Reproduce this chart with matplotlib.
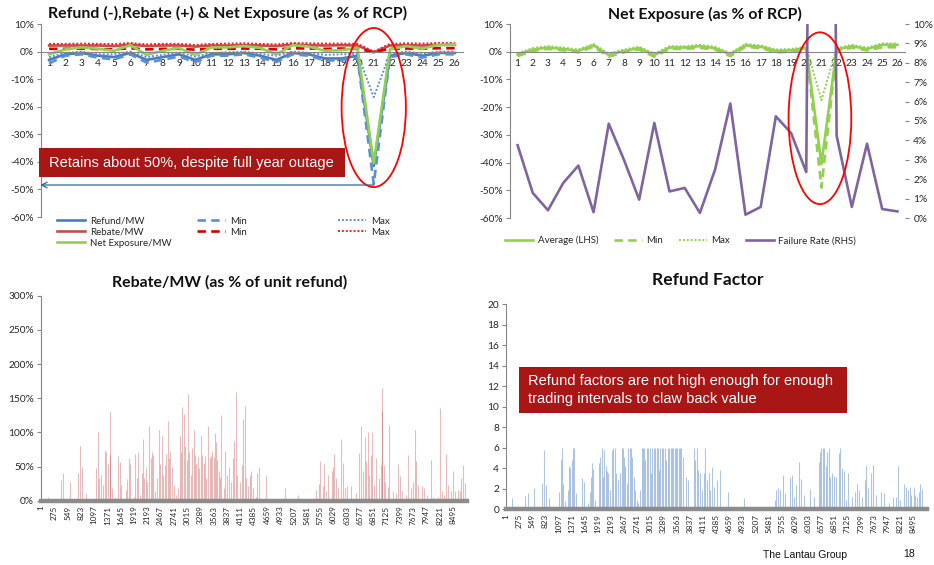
import numpy as np
import matplotlib
matplotlib.use("Agg")
import matplotlib.pyplot as plt
from matplotlib.patches import Ellipse, Rectangle
from matplotlib.lines import Line2D
from matplotlib.ticker import FuncFormatter

# ---------------- data ----------------
years = list(range(1, 27))

refund_avg = [-3.0, -1.0, -0.5, -1.5, -2.0, -0.5, -3.0, -2.0, -1.0, -3.0, -1.0, -1.0, -0.5,
              -1.5, -3.0, -0.5, -1.0, -2.5, -2.5, -1.5, -41.5, -1.5, -0.5, -1.5, -0.5, -0.5]
refund_min = [-4.3, -1.5, -1.0, -2.2, -2.8, -1.0, -4.0, -3.0, -1.8, -3.8, -1.5, -1.5, -1.0,
              -2.2, -3.8, -1.0, -1.5, -3.2, -3.2, -2.2, -48.0, -2.0, -1.0, -2.2, -1.0, -1.0]
refund_max = [-2.0, -0.5, 0.0, -1.0, -1.0, 0.0, -2.0, -1.2, -0.3, -1.8, -0.5, -0.3, 0.0,
              -0.8, -1.5, 0.0, -0.5, -1.2, -1.0, -0.8, -16.5, -0.8, 0.0, -0.8, 0.0, 0.0]
rebate_avg = [2.2, 2.2, 2.2, 2.2, 2.0, 2.5, 2.0, 2.2, 2.2, 1.8, 2.2, 2.2, 2.3,
              2.2, 2.0, 2.5, 2.3, 2.2, 2.3, 2.2, -0.3, 2.2, 2.3, 2.2, 2.4, 2.4]
rebate_min = [1.0, 1.0, 1.1, 0.9, 0.8, 1.2, 0.8, 1.0, 1.0, 0.7, 1.0, 1.0, 1.1,
              1.0, 0.8, 1.2, 1.1, 1.0, 1.1, 1.0, -0.2, 1.0, 1.1, 1.0, 1.2, 1.2]
rebate_max = [2.8, 2.8, 2.9, 2.8, 2.7, 3.1, 2.6, 2.8, 2.8, 2.4, 2.8, 2.9, 3.0,
              2.8, 2.6, 3.1, 3.0, 2.9, 2.9, 2.8, 0.0, 2.8, 3.0, 2.9, 3.1, 3.1]
net_avg = [-1.0, 0.8, 1.5, 1.0, 0.3, 2.3, -1.2, 0.3, 1.3, -1.2, 1.5, 1.5, 2.0,
           1.3, -1.0, 2.3, 1.8, 0.3, 0.5, 1.3, -40.5, 0.8, 2.0, 1.0, 2.5, 2.5]
net_min = [-1.6, 0.3, 1.0, 0.5, -0.2, 1.8, -1.8, -0.2, 0.8, -1.8, 1.0, 1.0, 1.4,
           0.8, -1.6, 1.8, 1.3, -0.2, 0.0, 0.8, -49.0, 0.3, 1.4, 0.5, 1.6, 1.6]
net_max = [-0.6, 1.3, 2.0, 1.5, 0.8, 2.8, -0.7, 0.8, 1.8, -0.7, 2.0, 2.0, 2.5,
           1.8, -0.5, 2.8, 2.3, 0.8, 1.0, 1.8, -17.5, 1.3, 2.5, 1.5, 3.0, 3.0]
failure_rate = [3.75, 1.29, 0.40, 1.80, 2.70, 0.30, 4.86, 3.00, 0.95, 4.90, 1.37, 1.55, 0.26,
                2.50, 5.90, 0.17, 0.57, 5.24, 4.38, 2.37, 100.0, 4.24, 0.57, 3.83, 0.46, 0.34]

n_intervals = 8784

# rebate per MW as % of unit refund: (trading interval, value %)
rebate_interval = [138, 413, 447, 598, 770, 798, 839, 929, 1101, 1136, 1170, 1205, 1233, 1274,
                   1315, 1343, 1384, 1418, 1432, 1467, 1536, 1591, 1632, 1653, 1756, 1777, 1811,
                   1839, 1915, 1949, 1977, 2004, 2046, 2073, 2101, 2128, 2156, 2190, 2225, 2259,
                   2287, 2314, 2349, 2390, 2431, 2459, 2487, 2514, 2549, 2583, 2618, 2638, 2666,
                   2694, 2742, 2776, 2831, 2865, 2886, 2907, 2941, 2976, 3003, 3031, 3058, 3093,
                   3120, 3148, 3176, 3203, 3238, 3265, 3300, 3327, 3355, 3382, 3410, 3444, 3479,
                   3506, 3534, 3561, 3596, 3617, 3637, 3665, 3692, 3720, 3768, 3802, 3837, 3871,
                   3919, 3961, 3988, 4022, 4050, 4098, 4139, 4174, 4201, 4229, 4270, 4305, 4332,
                   4374, 4429, 4463, 4491, 4649, 5028, 5290, 5661, 5723, 5757, 5806, 5840, 5875,
                   5909, 5992, 6012, 6047, 6081, 6129, 6177, 6219, 6274, 6316, 6385, 6488, 6557,
                   6605, 6640, 6674, 6709, 6736, 6771, 6805, 6833, 6874, 6915, 6964, 7005, 7026,
                   7040, 7067, 7102, 7150, 7184, 7260, 7322, 7370, 7405, 7453, 7522, 7577, 7625,
                   7666, 7708, 7735, 7784, 7866, 7907, 7969, 8038, 8093, 8182, 8224, 8265, 8313,
                   8361, 8403, 8451, 8492, 8540, 8589, 8637, 8665, 8699, 8740]
rebate_value = [6, 30, 40, 28, 41, 80, 49, 11, 3, 48, 100, 33, 37, 23,
                74, 71, 53, 130, 67, 18, 6, 66, 57, 23, 16, 32, 62,
                54, 6, 68, 33, 71, 9, 41, 90, 33, 48, 28, 109, 62,
                71, 67, 14, 33, 103, 53, 95, 38, 52, 69, 116, 62, 73,
                50, 23, 9, 18, 95, 71, 137, 127, 80, 59, 156, 71, 38,
                77, 103, 67, 53, 64, 48, 95, 67, 55, 66, 33, 110, 62,
                65, 73, 64, 99, 86, 59, 43, 33, 125, 18, 73, 38, 49,
                28, 62, 87, 159, 38, 28, 52, 119, 139, 33, 21, 38, 43,
                18, 6, 40, 49, 37, 18, 9, 15, 24, 58, 21, 53, 14,
                38, 44, 49, 68, 33, 18, 91, 55, 18, 21, 22, 11, 70,
                110, 43, 93, 58, 100, 38, 67, 101, 23, 63, 33, 52, 131,
                165, 52, 28, 20, 111, 14, 11, 54, 36, 14, 9, 67, 18,
                28, 103, 58, 23, 22, 18, 9, 60, 6, 6, 135, 14, 9,
                68, 23, 14, 44, 14, 16, 14, 33, 52, 26]

# refund factor: (trading interval, factor)
factor_interval = [118, 397, 452, 585, 758, 793, 828, 897, 1057, 1105, 1140, 1161, 1196, 1238,
                   1293, 1321, 1342, 1377, 1398, 1425, 1453, 1585, 1620, 1717, 1745, 1773, 1800,
                   1821, 1863, 1933, 1960, 1995, 2016, 2051, 2078, 2106, 2134, 2168, 2203, 2238,
                   2273, 2300, 2328, 2377, 2411, 2432, 2460, 2481, 2515, 2550, 2578, 2606, 2633,
                   2661, 2696, 2724, 2759, 2793, 2828, 2849, 2877, 2904, 2939, 2967, 2995, 3023,
                   3057, 3085, 3113, 3141, 3162, 3189, 3224, 3252, 3280, 3314, 3349, 3377, 3411,
                   3439, 3467, 3495, 3523, 3550, 3578, 3606, 3634, 3661, 3689, 3766, 3807, 3925,
                   3953, 3981, 4009, 4043, 4099, 4134, 4161, 4189, 4238, 4265, 4300, 4335, 4404,
                   4460, 4626, 4967, 5606, 5641, 5683, 5725, 5787, 5829, 5933, 5968, 6002, 6058,
                   6113, 6162, 6210, 6342, 6426, 6523, 6551, 6579, 6614, 6641, 6669, 6697, 6739,
                   6766, 6808, 6843, 6891, 6947, 6975, 7010, 7044, 7100, 7134, 7218, 7273, 7322,
                   7356, 7426, 7481, 7516, 7558, 7620, 7655, 7710, 7828, 7884, 8002, 8085, 8141,
                   8183, 8231, 8314, 8349, 8384, 8425, 8460, 8509, 8543, 8571, 8613, 8647, 8675]
factor_value = [1.07, 1.3, 1.56, 2.05, 2.6, 5.8, 2.4, 1.07, 0.26, 1.7, 4.8, 6, 2.5, 0.8,
                1.9, 4.2, 4.0, 4.8, 6, 6, 1.56, 3.1, 2.7, 0.6, 1.7, 3.2, 4.55,
                3.9, 0.9, 4.55, 5.1, 6, 3.2, 5.8, 4.2, 3.7, 3.5, 1.9, 5.8, 6,
                6, 3.5, 2.9, 3.5, 6, 6, 5.1, 4.2, 2.5, 6, 6, 6, 5.1,
                3.2, 1.9, 0.9, 0.6, 1.9, 6, 6, 6, 4.8, 6, 6, 6, 3.5,
                6, 6, 6, 6, 6, 3.8, 6, 6, 6, 6, 4.8, 6, 6,
                6, 6, 6, 6, 6, 6, 6, 6, 6, 5.1, 3.2, 2.9, 6,
                4.8, 6, 3.8, 3.5, 1.9, 3.5, 6, 2.9, 3.5, 1.9, 4.1, 2.2, 2.9,
                3.8, 1.7, 1.07, 0.9, 1.9, 2.05, 1.9, 3.35, 1.56, 3.2, 3.35, 1.2, 2.4,
                4.65, 3.0, 1.4, 1.95, 1.2, 4.65, 5.6, 5.95, 6, 5.95, 4.2, 5.6, 6,
                3.2, 3.5, 3.25, 3.2, 5.5, 6, 4.0, 3.7, 0.9, 3.5, 1.2, 1.7, 2.5,
                1.9, 1.2, 2.9, 4.3, 2.05, 3.5, 4.3, 1.4, 1.7, 1.56, 0.6, 1.2, 1.2,
                4.2, 0.9, 2.5, 2.15, 1.9, 2.2, 1.4, 2.2, 1.4, 1.2, 1.7, 2.5, 1.95]

interval_ticks = list(range(1, 8500, 274))

# ---------------- styling ----------------
plt.rcParams['font.family'] = ['Lato', 'DejaVu Sans']
TXT = '#262626'
AXC = '#868686'
BOX = '#A81616'
W, H = 934, 565


def fig_rect(x0, y0, x1, y1):
    """Pixel box (top-left origin) to figure fraction [l, b, w, h]."""
    return [x0 / W, 1 - y1 / H, (x1 - x0) / W, (y1 - y0) / H]


def fig_title(text, cx, cy, size):
    fig.text(cx / W, 1 - cy / H, text, ha='center', va='center', fontsize=size,
             fontweight='bold', color='#111111')


pct = FuncFormatter(lambda v, p: f"{v:.0f}%")

fig = plt.figure(figsize=(W / 100, H / 100), dpi=100)

DASH = (0, (3.2, 2.0))
DOT = (0, (1.0, 1.0))
LW = 1.9

# ---------- top-left: refund, rebate, net exposure ----------
ax1 = fig.add_axes(fig_rect(41, 24, 463, 217))
c_blue, c_blue2 = '#4A7EBB', '#5B8FD6'
c_red, c_red2, c_red3 = '#C0504D', '#D60000', '#FF1A1A'
c_green = '#92D050'
ax1.plot(years, refund_avg, color=c_blue, lw=LW)
ax1.plot(years, refund_min, color=c_blue2, lw=LW, ls=DASH)
ax1.plot(years, refund_max, color=c_blue2, lw=1.4, ls=DOT)
ax1.plot(years, rebate_avg, color=c_red, lw=LW)
ax1.plot(years, rebate_min, color=c_red2, lw=LW, ls=DASH)
ax1.plot(years, rebate_max, color=c_red3, lw=1.4, ls=DOT)
ax1.plot(years, net_avg, color=c_green, lw=LW)
ax1.set_xlim(0.5, 26.5)
ax1.set_ylim(-60, 10)
ax1.set_yticks(range(-60, 11, 10))
ax1.yaxis.set_major_formatter(pct)
ax1.set_xticks(years)
for s in ('top', 'right'):
    ax1.spines[s].set_visible(False)
ax1.spines['bottom'].set_position(('data', 0))
for s in ('bottom', 'left'):
    ax1.spines[s].set_color(AXC)
    ax1.spines[s].set_linewidth(0.8)
ax1.tick_params(axis='x', length=0, pad=5.5, labelsize=7.3, colors=TXT)
ax1.tick_params(axis='y', length=3, width=0.8, color=AXC, pad=2, labelsize=7.3, labelcolor=TXT)
fig_title("Refund (-),Rebate (+) & Net Exposure (as % of RCP)", 228, 13, 11.4)
ax1.add_patch(Ellipse((21.0, -20.3), 3.96, 57.7, fill=False, ec='#FF0000', lw=1.3,
                      clip_on=False, zorder=6))
ax1.annotate('', xy=(0.45, -48.4), xytext=(21.0, -48.4),
             arrowprops=dict(arrowstyle='->', color='#2A6B96', lw=0.9,
                             shrinkA=0, shrinkB=0, mutation_scale=10),
             annotation_clip=False, zorder=6)

leg_kw = dict(loc='upper left', frameon=False, fontsize=7.0, borderpad=0, borderaxespad=0,
              handlelength=2.9, handletextpad=0.5, labelspacing=0.22)
for lbls, hs, xp in (
        (['Refund/MW', 'Rebate/MW', 'Net Exposure/MW'],
         [Line2D([], [], color=c_blue, lw=LW), Line2D([], [], color=c_red, lw=LW),
          Line2D([], [], color=c_green, lw=LW)], 57),
        (['Min', 'Min'],
         [Line2D([], [], color=c_blue2, lw=LW, ls=DASH),
          Line2D([], [], color=c_red2, lw=LW, ls=DASH)], 197),
        (['Max', 'Max'],
         [Line2D([], [], color=c_blue2, lw=1.4, ls=DOT),
          Line2D([], [], color=c_red3, lw=1.4, ls=DOT)], 338)):
    lg = fig.legend(hs, lbls, bbox_to_anchor=(xp / W, 1 - 216.5 / H), **leg_kw)
    for t in lg.get_texts():
        t.set_color(TXT)

# ---------- top-right: net exposure and failure rate ----------
ax2 = fig.add_axes(fig_rect(510, 24, 905, 218))
ax2.plot(years, net_avg, color=c_green, lw=LW)
ax2.plot(years, net_min, color=c_green, lw=LW, ls=DASH)
ax2.plot(years, net_max, color=c_green, lw=1.4, ls=DOT)
ax2.set_xlim(0.5, 26.5)
ax2.set_ylim(-60, 10)
ax2.set_yticks(range(-60, 11, 10))
ax2.yaxis.set_major_formatter(pct)
ax2.set_xticks(years)
for s in ('top', 'right'):
    ax2.spines[s].set_visible(False)
ax2.spines['bottom'].set_position(('data', 0))
for s in ('bottom', 'left'):
    ax2.spines[s].set_color(AXC)
    ax2.spines[s].set_linewidth(0.8)
ax2.tick_params(axis='x', length=0, pad=5.5, labelsize=7.3, colors=TXT)
ax2.tick_params(axis='y', length=3, width=0.8, color=AXC, pad=2, labelsize=7.3, labelcolor=TXT)
fig_title("Net Exposure (as % of RCP)", 705, 14, 11.4)

ax2r = ax2.twinx()
ax2r.plot(years, failure_rate, color='#8064A2', lw=LW)
ax2r.set_ylim(0, 10)
ax2r.set_yticks(range(0, 11, 1))
ax2r.yaxis.set_major_formatter(pct)
for s in ('top', 'right', 'left', 'bottom'):
    ax2r.spines[s].set_visible(False)
ax2r.tick_params(axis='y', length=3, width=0.8, color=AXC, pad=3, labelsize=7.3, labelcolor=TXT)
# ellipse spans -55% .. 7% on the left scale (0..10 on the right scale maps -60..10)
ax2r.add_patch(Ellipse((20.9, (-24 + 60) / 7), 4.13, 62 / 7, fill=False,
                       ec='#FF0000', lw=1.3, clip_on=False, zorder=6))

hs2 = [Line2D([], [], color=c_green, lw=LW), Line2D([], [], color=c_green, lw=LW, ls=DASH),
       Line2D([], [], color=c_green, lw=1.4, ls=DOT), Line2D([], [], color='#8064A2', lw=LW)]
lg2 = fig.legend(hs2, ['Average (LHS)', 'Min', 'Max', 'Failure Rate (RHS)'], loc='center left',
                 bbox_to_anchor=(505 / W, 1 - 240.7 / H), ncol=4, frameon=False, fontsize=7.0,
                 borderpad=0, borderaxespad=0, handlelength=2.9, handletextpad=0.45,
                 columnspacing=1.6)
for t in lg2.get_texts():
    t.set_color(TXT)


# ---------- bottom panels ----------
def interval_axes(rect, ymax, ystep, fmt):
    ax = fig.add_axes(rect)
    ax.set_xlim(0.5, n_intervals + 0.5)
    ax.set_ylim(0, ymax)
    ax.set_yticks(np.arange(0, ymax + ystep / 2, ystep))
    if fmt is not None:
        ax.yaxis.set_major_formatter(fmt)
    ax.set_xticks(interval_ticks)
    ax.set_xticklabels([str(t) for t in interval_ticks], rotation=90)
    for s in ('top', 'right'):
        ax.spines[s].set_visible(False)
    ax.spines['left'].set_color(AXC)
    ax.spines['left'].set_linewidth(0.8)
    ax.spines['bottom'].set_color('#8C8C8C')
    ax.spines['bottom'].set_linewidth(3.2)
    ax.spines['bottom'].set_zorder(3)
    ax.tick_params(axis='x', length=0, pad=3.5, labelsize=5.9, colors=TXT)
    ax.tick_params(axis='y', length=3, width=0.8, color=AXC, pad=2, labelsize=7.3,
                   labelcolor=TXT)
    return ax


rebate_series = np.zeros(n_intervals)
rebate_series[np.array(rebate_interval) - 1] = rebate_value
factor_series = np.zeros(n_intervals)
factor_series[np.array(factor_interval) - 1] = factor_value
idx = np.arange(1, n_intervals + 1)

ax3 = interval_axes(fig_rect(41, 295.7, 467, 500.7), 300, 50, pct)
ax3.vlines(idx, 0, rebate_series, colors='#C0504D', lw=0.8, alpha=0.38)
fig_title("Rebate/MW (as % of unit refund)", 229.5, 282, 11.4)

ax4 = interval_axes(fig_rect(506, 304.3, 927, 509.3), 20, 2, None)
ax4.vlines(idx, 0, factor_series, colors='#4F81BD', lw=0.8, alpha=0.45)
fig_title("Refund Factor", 708, 280, 12.6)

# ---------- callout boxes ----------
fig.add_artist(Rectangle((39 / W, 1 - 177 / H), 306 / W, 29 / H, transform=fig.transFigure,
                         fc=BOX, ec='none', zorder=8))
fig.text(49 / W, 1 - 162.5 / H, "Retains about 50%, despite full year outage", color='white',
         fontsize=10.5, va='center', ha='left', family='Liberation Sans', zorder=9)

fig.add_artist(Rectangle((519 / W, 1 - 413 / H), 328 / W, 46 / H, transform=fig.transFigure,
                         fc=BOX, ec='none', zorder=8))
fig.text(528 / W, 1 - 380.5 / H, "Refund factors are not high enough for enough", color='white',
         fontsize=10.5, va='center', ha='left', family='Liberation Sans', zorder=9)
fig.text(528 / W, 1 - 399 / H, "trading intervals to claw back value", color='white',
         fontsize=10.5, va='center', ha='left', family='Liberation Sans', zorder=9)

# ---------- footer ----------
fig.text(763 / W, 1 - 555 / H, "The Lantau Group", fontsize=7.5, va='center', ha='left',
         family='Liberation Sans', color='#111111')
fig.text(903 / W, 1 - 554 / H, "18", fontsize=7.5, va='center', ha='left',
         family='Liberation Sans', color='#111111')

fig.savefig("out.png", dpi=100)
